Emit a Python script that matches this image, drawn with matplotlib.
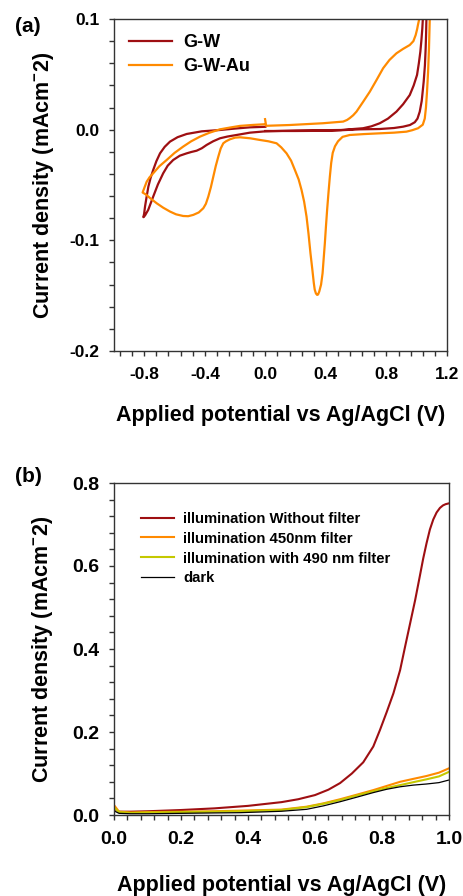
import matplotlib
matplotlib.use("Agg")
import matplotlib.pyplot as plt
from matplotlib.ticker import MultipleLocator, FormatStrFormatter

plt.rcParams['font.family'] = ['Liberation Sans', 'DejaVu Sans']
plt.rcParams['font.weight'] = 'bold'
plt.rcParams['mathtext.fontset'] = 'custom'
plt.rcParams['mathtext.rm'] = 'Liberation Sans:bold'
plt.rcParams['mathtext.bf'] = 'Liberation Sans:bold'

# ---- panel (a): cyclic voltammograms ----
gw_x = [0.0, 0.2, 0.426, 0.624, 0.756, 0.85, 0.91, 0.955, 0.987, 1.005, 1.02, 1.033, 1.046, 1.054, 1.059, 1.062, 1.064, 1.068,
        1.045, 1.04, 1.037, 1.031, 1.024, 1.014, 1.002, 0.98, 0.954, 0.91, 0.866, 0.81, 0.756, 0.70, 0.646, 0.5, 0.2, 0.0,
        -0.102, -0.19, -0.25, -0.30, -0.345, -0.388, -0.42, -0.454, -0.49, -0.52, -0.565, -0.609, -0.645, -0.675,
        -0.71, -0.741, -0.774, -0.795, -0.806,
        -0.801, -0.795, -0.785, -0.773, -0.758, -0.741, -0.72, -0.696, -0.665, -0.63, -0.58, -0.52, -0.42, -0.30,
        -0.2, -0.102, 0.0]
gw_y = [-0.0012, -0.0012, -0.0010, 0.0003, 0.0006, 0.0015, 0.0027, 0.0042, 0.0067, 0.010, 0.0163, 0.026, 0.0434, 0.058, 0.0735, 0.087, 0.1, 0.13,
        0.13, 0.099, 0.0916, 0.081, 0.0705, 0.06, 0.0494, 0.040, 0.0313, 0.023, 0.0163, 0.010, 0.0058, 0.003, 0.0013, -0.0003, -0.0008, -0.0015,
        -0.0027, -0.0048, -0.0062, -0.0078, -0.0105, -0.0138, -0.0168, -0.019, -0.0202, -0.0214, -0.0235, -0.0274, -0.0325, -0.0394,
        -0.0495, -0.0605, -0.0725, -0.0775, -0.0791,
        -0.076, -0.0695, -0.061, -0.0515, -0.0435, -0.0364, -0.0285, -0.0214, -0.0155, -0.0108, -0.0068, -0.0039, -0.0015, -0.0003,
        0.001, 0.0021, 0.0026]

gwau_x = [-0.002, 0.005, 0.16, 0.38, 0.514, 0.54, 0.558, 0.58, 0.602, 0.645, 0.69, 0.735, 0.778, 0.82, 0.866, 0.91, 0.954,
          0.978, 0.993, 1.003, 1.008, 1.015, 1.02,
          1.09, 1.086, 1.081, 1.075, 1.068, 1.061, 1.053, 1.04, 1.009, 0.97, 0.932, 0.85, 0.756, 0.65, 0.558,
          0.51, 0.48, 0.46, 0.445, 0.435, 0.426, 0.417, 0.408, 0.40, 0.393, 0.385, 0.378, 0.368, 0.356, 0.348,
          0.342, 0.334, 0.326, 0.32, 0.31, 0.298, 0.285, 0.272, 0.256, 0.239, 0.22, 0.195, 0.17, 0.14, 0.105,
          0.074, 0.02, -0.036, -0.1, -0.168, -0.2, -0.234, -0.26, -0.278, -0.295, -0.311, -0.328, -0.344, -0.36,
          -0.377, -0.393, -0.41, -0.44, -0.476, -0.51, -0.543, -0.59, -0.63, -0.675, -0.718, -0.76, -0.79, -0.811,
          -0.798, -0.784, -0.765, -0.741, -0.70, -0.652, -0.6, -0.543, -0.49, -0.432, -0.37, -0.30, -0.23, -0.168,
          -0.08, -0.003]
gwau_y = [0.0095, 0.0035, 0.0042, 0.0058, 0.0073, 0.0088, 0.0105, 0.013, 0.0163, 0.025, 0.0343, 0.045, 0.0555, 0.063, 0.069, 0.073, 0.0765,
          0.080, 0.0855, 0.091, 0.0946, 0.099, 0.13,
          0.13, 0.1, 0.0735, 0.052, 0.0343, 0.02, 0.01, 0.0045, 0.0013, -0.0005, -0.0018, -0.0027, -0.0033, -0.004, -0.0048,
          -0.0065, -0.0105, -0.015, -0.021, -0.030, -0.0425, -0.057, -0.0725, -0.088, -0.1026, -0.117, -0.1297, -0.140, -0.1463, -0.149,
          -0.1493, -0.148, -0.1445, -0.1385, -0.126, -0.1117, -0.094, -0.0786, -0.065, -0.0545, -0.045, -0.0364, -0.028, -0.0214, -0.016,
          -0.0123, -0.0105, -0.0093, -0.0078, -0.0069, -0.0072, -0.0087, -0.0105, -0.0123, -0.017, -0.0244, -0.033, -0.0425, -0.052,
          -0.0605, -0.067, -0.071, -0.0748, -0.077, -0.0782, -0.078, -0.0765, -0.074, -0.0705, -0.0665, -0.062, -0.0585, -0.0568,
          -0.052, -0.047, -0.043, -0.0394, -0.033, -0.0274, -0.021, -0.0153, -0.0105, -0.0063, -0.0028, 0.0003, 0.002, 0.0034,
          0.0043, 0.0049]

# ---- panel (b): linear sweeps ----
nofilt_x = [0.0, 0.015, 0.05, 0.1, 0.2, 0.3, 0.4, 0.5, 0.55, 0.6, 0.64, 0.675, 0.71, 0.744, 0.774, 0.794, 0.814, 0.834,
            0.854, 0.869, 0.884, 0.899, 0.913, 0.923, 0.933, 0.943, 0.953, 0.963, 0.973, 0.982, 0.99, 1.0]
nofilt_y = [0.015, 0.008, 0.008, 0.009, 0.012, 0.016, 0.022, 0.031, 0.038, 0.048, 0.061, 0.077, 0.100, 0.127, 0.165, 0.205, 0.248, 0.293,
            0.349, 0.406, 0.462, 0.518, 0.576, 0.618, 0.655, 0.688, 0.712, 0.729, 0.740, 0.746, 0.749, 0.751]

low_x = [0.0, 0.015, 0.05, 0.1, 0.2, 0.3, 0.376, 0.5, 0.575, 0.625, 0.675, 0.725, 0.774, 0.814, 0.854, 0.893, 0.933, 0.97, 1.0]
f450_y = [0.024, 0.008, 0.006, 0.007, 0.008, 0.009, 0.0105, 0.013, 0.020, 0.028, 0.038, 0.049, 0.060, 0.070, 0.080, 0.087, 0.094, 0.102, 0.1125]
f490_y = [0.018, 0.007, 0.005, 0.006, 0.007, 0.008, 0.009, 0.012, 0.019, 0.027, 0.036, 0.047, 0.057, 0.065, 0.072, 0.079, 0.086, 0.093, 0.104]
dark_y = [0.010, 0.004, 0.003, 0.003, 0.004, 0.005, 0.0056, 0.009, 0.0137, 0.022, 0.032, 0.043, 0.054, 0.062, 0.068, 0.072, 0.0747, 0.078, 0.0843]

xlabel = "Applied potential vs Ag/AgCl (V)"
ylabel = r"Current density (mAcm$^{\mathbf{-}}$2)"

red = "#9e0f12"
orange = "#ff8a00"
yellow = "#c4c800"

fig = plt.figure(figsize=(4.64, 8.96), dpi=100)
W, H = 464, 896


def style_axes(ax, fs):
    for s in ax.spines.values():
        s.set_color("#333333")
        s.set_linewidth(1.0)
    ax.tick_params(which='both', direction='out', length=3.8, width=1.0, color="#333333",
                   top=False, right=False, labelsize=fs)
    ax.tick_params(axis='x', which='both', pad=7.5)
    ax.tick_params(axis='y', which='both', pad=6.5)
    for lab in ax.get_xticklabels() + ax.get_yticklabels():
        lab.set_fontweight('bold')


# panel (a)
ax1 = fig.add_axes([114 / W, 1 - 351 / H, 333 / W, 332 / H])
ax1.plot(gw_x, gw_y, color=red, lw=1.6, label="G-W")
ax1.plot(gwau_x, gwau_y, color=orange, lw=1.6, label="G-W-Au")
ax1.set_xlim(-1.0, 1.2)
ax1.set_ylim(-0.2, 0.1)
ax1.xaxis.set_major_locator(MultipleLocator(0.4))
ax1.xaxis.set_minor_locator(MultipleLocator(0.08))
ax1.yaxis.set_major_locator(MultipleLocator(0.1))
ax1.yaxis.set_minor_locator(MultipleLocator(0.02))
ax1.xaxis.set_major_formatter(FormatStrFormatter('%.1f'))
ax1.yaxis.set_major_formatter(FormatStrFormatter('%.1f'))
style_axes(ax1, 12.5)
ax1.set_xlabel(xlabel, fontsize=15.5, fontweight='bold', va='center')
ax1.xaxis.set_label_coords(0.5, -0.193)
ax1.set_ylabel(ylabel, fontsize=15.5, fontweight='bold', va='center')
ax1.yaxis.set_label_coords(-0.213, 0.5)
ax1.legend(loc='upper left', bbox_to_anchor=(0.045, 0.955), frameon=False, fontsize=13,
           handlelength=2.38, handletextpad=0.6, labelspacing=0.41, borderpad=0, borderaxespad=0)

# panel (b)
ax2 = fig.add_axes([114 / W, 1 - 815 / H, 335 / W, 332 / H])
ax2.plot(nofilt_x, nofilt_y, color=red, lw=1.5, label="illumination Without filter")
ax2.plot(low_x, f450_y, color=orange, lw=1.5, label="illumination 450nm filter")
ax2.plot(low_x, f490_y, color=yellow, lw=1.5, label="illumination with 490 nm filter")
ax2.plot(low_x, dark_y, color="black", lw=0.9, label="dark")
ax2.set_xlim(0, 1.0)
ax2.set_ylim(0, 0.8)
ax2.xaxis.set_major_locator(MultipleLocator(0.2))
ax2.xaxis.set_minor_locator(MultipleLocator(0.04))
ax2.yaxis.set_major_locator(MultipleLocator(0.2))
ax2.yaxis.set_minor_locator(MultipleLocator(0.04))
ax2.xaxis.set_major_formatter(FormatStrFormatter('%.1f'))
ax2.yaxis.set_major_formatter(FormatStrFormatter('%.1f'))
style_axes(ax2, 14)
ax2.set_xlabel(xlabel, fontsize=15.5, fontweight='bold', va='center')
ax2.xaxis.set_label_coords(0.5, -0.211)
ax2.set_ylabel(ylabel, fontsize=15.5, fontweight='bold', va='center')
ax2.yaxis.set_label_coords(-0.212, 0.5)
ax2.legend(loc='upper left', bbox_to_anchor=(0.081, 0.913), frameon=False, fontsize=10.75,
           handlelength=2.2, handletextpad=0.6, labelspacing=0.39, borderpad=0, borderaxespad=0)

fig.text(28 / W, 1 - 26 / H, "(a)", fontsize=15, fontweight='bold', ha='center', va='center')
fig.text(28 / W, 1 - 476 / H, "(b)", fontsize=15, fontweight='bold', ha='center', va='center')

fig.savefig("out.png", dpi=100)
